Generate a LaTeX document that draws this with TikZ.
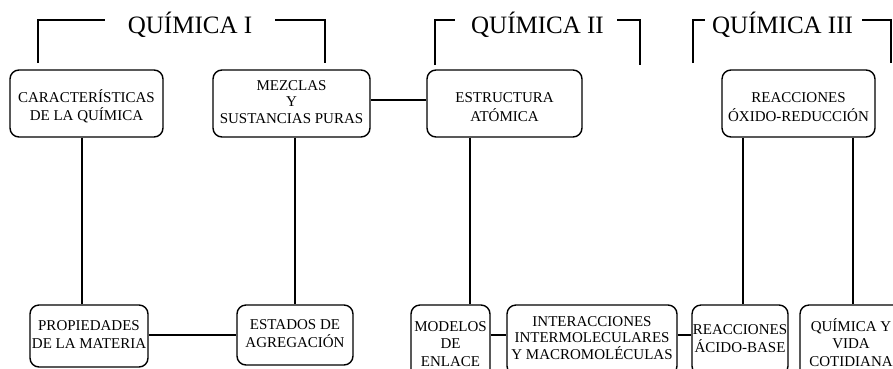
\documentclass[tikz,border=0pt]{standalone}
\usepackage{fontspec}
\setmainfont{Liberation Serif}
\newcommand\lowtxt[2]{\raisebox{-#1}[\height][\depth]{\begin{tabular}{@{}c@{}}#2\end{tabular}}}
\begin{document}
\begin{tikzpicture}[x=1pt,y=-1pt,
  box/.style={draw, line width=1.4pt, rounded corners=9pt, inner sep=0pt, font=\fontsize{15}{17.5}\selectfont},
  link/.style={line width=1.3pt},
  ttl/.style={font=\fontsize{25}{30}\selectfont, anchor=base, inner sep=0pt}]
\useasboundingbox (0,0) rectangle (893,368);
\clip (0,0) rectangle (893,368);
\fill[white] (0,0) rectangle (893,368);

% titles
\node[ttl] (t1) at (190,33) {QUÍMICA I};
\node[ttl] (t2) at (537.5,33) {QUÍMICA II};
\node[ttl] (t3) at (782.5,33) {QUÍMICA III};

% bracket corners
\coordinate (b1a) at (38,63);  \coordinate (b1b) at (105,20);
\coordinate (b1c) at (275,20); \coordinate (b1d) at (325,63);
\coordinate (b2a) at (435,65); \coordinate (b2b) at (455,20);
\coordinate (b2c) at (617,20); \coordinate (b2d) at (640,65);
\coordinate (b3a) at (693,63); \coordinate (b3b) at (705,20);
\coordinate (b3c) at (862,20); \coordinate (b3d) at (891,63);
\draw[link] (b1a) |- (b1b);
\draw[link] (b1c) -| (b1d);
\draw[link] (b2a) |- (b2b);
\draw[link] (b2c) -| (b2d);
\draw[link] (b3a) |- (b3b);
\draw[link] (b3c) -| (b3d);

% top row
\node[box, minimum width=153pt, minimum height=67pt] (car) at (86.5,103.5)
  {\lowtxt{4.5pt}{CARACTERÍSTICAS\\DE LA QUÍMICA}};
\node[box, minimum width=157pt, minimum height=67pt, font=\fontsize{15}{16.5}\selectfont] (mez) at (291.5,103.5)
  {\lowtxt{0pt}{MEZCLAS\\Y\\SUSTANCIAS PURAS}};
\node[box, minimum width=155pt, minimum height=67pt] (est) at (504.5,103.5)
  {\lowtxt{5pt}{ESTRUCTURA\\ATÓMICA}};
\node[box, minimum width=153pt, minimum height=67pt] (oxr) at (798.5,103.5)
  {\lowtxt{5pt}{REACCIONES\\ÓXIDO-REDUCCIÓN}};

% bottom row
\node[box, minimum width=118pt, minimum height=62pt] (prop) at (89,336)
  {\lowtxt{0pt}{PROPIEDADES\\DE LA MATERIA}};
\node[box, minimum width=116pt, minimum height=60pt] (estd) at (295,335)
  {\lowtxt{0pt}{ESTADOS DE\\AGREGACIÓN}};
\node[box, minimum width=79pt, minimum height=80pt] (mod) at (450.5,345)
  {\lowtxt{0pt}{MODELOS\\DE\\ENLACE}};
\node[box, minimum width=170pt, minimum height=70pt, font=\fontsize{15}{15.5}\selectfont] (inter) at (592,340)
  {\lowtxt{0pt}{INTERACCIONES\\INTERMOLECULARES\\Y MACROMOLÉCULAS}};
\node[box, minimum width=96pt, minimum height=70pt] (acid) at (740,340)
  {\lowtxt{0pt}{REACCIONES\\ÁCIDO-BASE}};
\node[box, minimum width=102pt, minimum height=80pt] (vida) at (851,345)
  {\lowtxt{0pt}{QUÍMICA Y\\VIDA\\COTIDIANA}};

% connectors
\coordinate (rowA) at (0,100);
\coordinate (rowB) at (0,335);
\draw[link] (mez.east |- rowA) -- (est.west |- rowA);
\draw[link] ([xshift=-4.5pt]car.south) -- ([xshift=-4.5pt]car.south |- prop.north);
\draw[link] ([xshift=3.5pt]mez.south) -- ([xshift=3.5pt]mez.south |- estd.north);
\draw[link] ([xshift=-34.5pt]est.south) -- ([xshift=-34.5pt]est.south |- mod.north);
\draw[link] ([xshift=-55.5pt]oxr.south) -- ([xshift=-55.5pt]oxr.south |- acid.north);
\draw[link] ([xshift=54.5pt]oxr.south) -- ([xshift=54.5pt]oxr.south |- vida.north);
\draw[link] (prop.east |- rowB) -- (estd.west |- rowB);
\draw[link] (mod.east |- rowB) -- (inter.west |- rowB);
\draw[link] (inter.east |- rowB) -- (acid.west |- rowB);
\end{tikzpicture}
\end{document}
